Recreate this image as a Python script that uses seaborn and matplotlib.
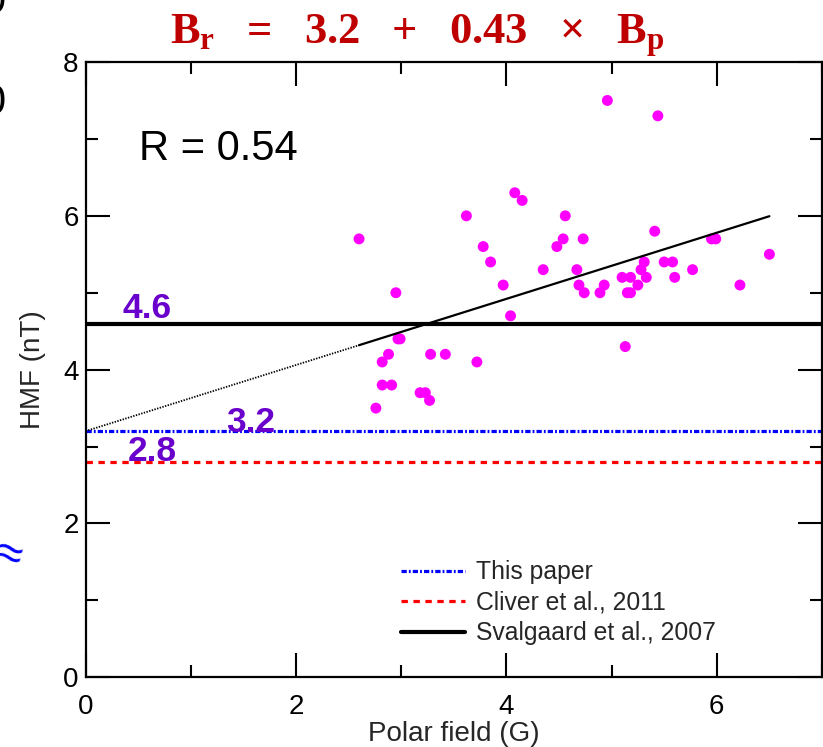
import numpy as np
import pandas as pd
import matplotlib
matplotlib.use("Agg")
import matplotlib.pyplot as plt
import seaborn as sns

# Polar field (G) vs heliospheric magnetic field (nT) per solar minimum sample
polar_field = [4.96, 5.44, 4.08, 4.15, 3.62, 4.56, 2.60, 4.54, 4.73, 5.41,
               3.78, 4.48, 5.95, 5.99, 3.85, 6.50, 4.35, 4.67, 5.31, 5.28,
               5.50, 5.58, 5.77, 3.97, 4.69, 4.93, 5.10, 5.18, 5.33, 5.60,
               5.25, 4.74, 4.89, 5.15, 5.18, 6.22, 2.95, 4.04, 2.97, 2.99,
               5.13, 2.88, 3.28, 3.42, 2.82, 3.72, 2.82, 2.91, 3.18, 3.23,
               3.27, 2.76]
hmf = [7.5, 7.3, 6.3, 6.2, 6.0, 6.0, 5.7, 5.7, 5.7, 5.8,
       5.6, 5.6, 5.7, 5.7, 5.4, 5.5, 5.3, 5.3, 5.4, 5.3,
       5.4, 5.4, 5.3, 5.1, 5.1, 5.1, 5.2, 5.2, 5.2, 5.2,
       5.1, 5.0, 5.0, 5.0, 5.0, 5.1, 5.0, 4.7, 4.4, 4.4,
       4.3, 4.2, 4.2, 4.2, 4.1, 4.1, 3.8, 3.8, 3.7, 3.7,
       3.6, 3.5]

# Linear fit parameters and statistics
fit_intercept = 3.2
fit_slope = 0.43
fit_range = [2.6, 6.5]
corr_r = 0.54

# Reference floor levels (nT)
level_names = ["This paper", "Cliver et al., 2011", "Svalgaard et al., 2007"]
level_values = [3.2, 2.8, 4.6]

x_ticks = [0, 2, 4, 6]
y_ticks = [0, 2, 4, 6, 8]

sns.set_theme(style="ticks")
plt.rcParams["font.family"] = ["Liberation Sans", "DejaVu Sans"]
plt.rcParams["lines.scale_dashes"] = False
plt.rcParams["mathtext.fontset"] = "custom"
plt.rcParams["mathtext.rm"] = "Liberation Serif:bold"
plt.rcParams["mathtext.it"] = "Liberation Serif:bold"
plt.rcParams["mathtext.bf"] = "Liberation Serif:bold"

W, H = 823, 747
fig = plt.figure(figsize=(W / 100, H / 100), dpi=100)
ax = fig.add_axes([85.5 / W, 1 - 677.3 / H, 736.5 / W, 615.3 / H])

# Reference levels
purple = "#6A00CC"
l_this, = ax.plot([0, 7], [level_values[0]] * 2, color="#0000FF", lw=2.3,
                  dashes=[3.8, 1.5, 1.3, 1.5], label=level_names[0], zorder=2)
l_cliver, = ax.plot([0, 7], [level_values[1]] * 2, color="#FF0000", lw=2.3,
                    dashes=[4.6, 4.0], label=level_names[1], zorder=2)
l_sval, = ax.plot([0, 7], [level_values[2]] * 2, color="black", lw=3.0,
                  label=level_names[2], zorder=2)

# Scatter of measurements
df = pd.DataFrame({"Bp": polar_field, "HMF": hmf})
sns.scatterplot(data=df, x="Bp", y="HMF", ax=ax, color="#FF00FF",
                s=62, edgecolor="none", zorder=3, legend=False)

# Fitted line, solid over data range and dotted extrapolation to Bp = 0
xs = np.array(fit_range)
ax.plot(xs, fit_intercept + fit_slope * xs, color="black", lw=1.6, zorder=4)
xe = np.array([0.0, fit_range[0]])
ax.plot(xe, fit_intercept + fit_slope * xe, color="black", lw=1.3,
        dashes=[1.0, 1.0], zorder=4)

# Level annotations
ax.text(0.35, 4.67, f"{level_values[2]:.1f}", color=purple, fontsize=25.5,
        fontweight="bold", ha="left", va="baseline")
ax.text(1.34, 3.19, f"{level_values[0]:.1f}", color=purple, fontsize=25.5,
        fontweight="bold", ha="left", va="baseline")
ax.text(0.40, 2.81, f"{level_values[1]:.1f}", color=purple, fontsize=25.5,
        fontweight="bold", ha="left", va="baseline")
ax.text(0.51, 6.73, f"R = {corr_r:.2f}", color="black", fontsize=30,
        ha="left", va="baseline")

ax.set_xlim(0, 7)
ax.set_ylim(0, 8)
ax.set_xticks(x_ticks)
ax.set_yticks(y_ticks)
ax.set_xticks(np.arange(0, 8, 1), minor=True)
ax.set_yticks(np.arange(0, 9, 1), minor=True)
ax.tick_params(which="both", direction="in", top=True, right=True,
               width=1.5, colors="black")
ax.tick_params(which="major", length=17, labelsize=20)
ax.tick_params(which="minor", length=8.6)
ax.tick_params(axis="x", which="major", pad=12)
ax.tick_params(axis="y", which="major", pad=5)
for sp in ax.spines.values():
    sp.set_linewidth(1.6)
    sp.set_color("black")

ax.set_xlabel("Polar field (G)", fontsize=20, labelpad=0.5)
ax.set_ylabel("HMF (nT)", fontsize=20, labelpad=12)

leg = ax.legend(handles=[l_this, l_cliver, l_sval], loc="upper left",
                bbox_to_anchor=(0.428, 0.190), frameon=False, fontsize=17.8,
                handlelength=2.6, handletextpad=0.45, labelspacing=0.26,
                borderpad=0, borderaxespad=0)

# Fit equation above the panel
fig.text(417 / W, 1 - 44 / H,
         r"$B_r\ \ =\ \ 3.2\ \ +\ \ 0.43\ \ \times\ \ B_p$",
         color="#BF0000", fontsize=32, ha="center", va="baseline")

# Edge of the neighbouring panel
fig.text(6 / W, 1 - 13 / H, "0", fontsize=30, ha="right", va="baseline",
         color="black")
fig.text(6 / W, 1 - 114 / H, "0", fontsize=30, ha="right", va="baseline",
         color="black")
fig.text(8 / W, 1 - 556 / H, "\u2248", fontsize=34, ha="center",
         va="center", color="#0000FF", rotation=-15)

fig.savefig("out.png", dpi=100)
